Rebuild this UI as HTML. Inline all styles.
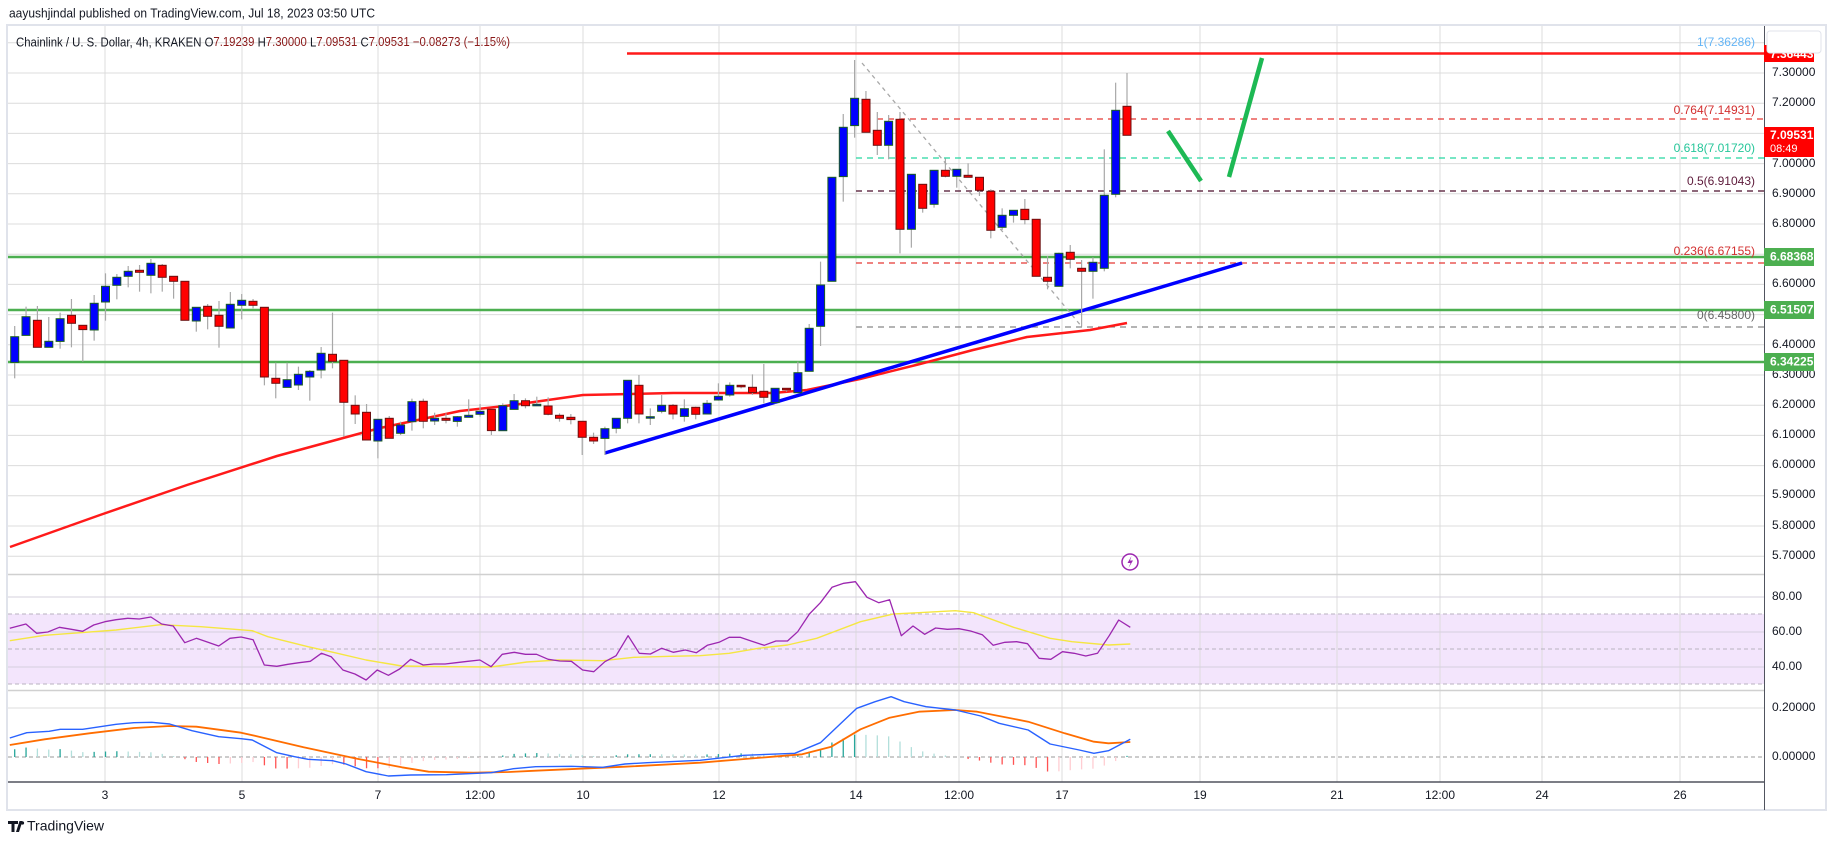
<!DOCTYPE html>
<html><head><meta charset="utf-8">
<style>
html,body{margin:0;padding:0;background:#fff;}
svg{display:block;font-family:"Liberation Sans",Arial,sans-serif;}
</style></head>
<body>
<svg id="s" width="1835" height="845" viewBox="0 0 1835 845" xmlns="http://www.w3.org/2000/svg"></svg>
<script>
const S=document.getElementById('s');let h='';
function L(x1,y1,x2,y2,c,w,d){h+=`<line x1="${x1}" y1="${y1}" x2="${x2}" y2="${y2}" stroke="${c}" stroke-width="${w||1}"${d?` stroke-dasharray="${d}"`:''}/>`;}
function T(x,y,t,c,sz,a,wt){h+=`<text x="${x}" y="${y}" fill="${c}" font-size="${sz||12}" ${a?`text-anchor="${a}"`:''} ${wt?`font-weight="${wt}"`:''} dominant-baseline="middle">${t}</text>`;}
function P(pts,c,w,dash){h+=`<polyline fill="none" stroke="${c}" stroke-width="${w}" stroke-linejoin="round" ${dash?`stroke-dasharray="${dash}"`:''} points="${pts.map(p=>p[0].toFixed(1)+','+p[1].toFixed(1)).join(' ')}"/>`;}
h+=`<rect x="7" y="25" width="1819" height="785" fill="#fff" stroke="#e0e3eb" stroke-width="2"/>`;
h+=`<rect x="8" y="614" width="1756" height="70" fill="#f3e5fc"/>`;
const vx=[105,242,378,480,583,719,856,959,1062,1200,1337,1440,1542,1680];
vx.forEach(x=>L(x,26,x,782,'#dcdcdc'));
for(let k=-1;k<17;k++){const y=73+k*30.2;if(y>28&&y<572)L(8,y,1764,y,'#dcdcdc');}
[597,632,667].forEach(y=>L(8,y,1764,y,'#d6d0de'));
[614,649,684].forEach(y=>L(8,y,1764,y,'#b8b2c0',1,'4,3'));
L(8,708,1764,708,'#dcdcdc');
L(8,574.5,1764,574.5,'#d0d0d0',1.5);L(8,690.5,1764,690.5,'#d0d0d0',1.5);
L(8,757,1764,757,'#9a9a9a',1,'4,3');
L(8,782,1764,782,'#50535e',1.5);
L(1764.5,26,1764.5,810,'#50535e',1);
L(627,53.5,1764,53.5,'#ff1a1a',2.5);
[257,310,362].forEach(y=>L(8,y,1764,y,'#4caf50',2.5));
L(877,119,1764,119,'#e53935',1.3,'6,5');
L(856,158,1764,158,'#26d6a0',1.3,'6,5');
L(856,191,1764,191,'#4a0e2a',1.3,'6,5');
L(856,263,1764,263,'#e53935',1.3,'6,5');
L(856,327,1764,327,'#888',1.3,'6,5');
L(862,63,1082,327,'#a8a8a8',1.3,'4,4');
T(1755,43,'1(7.36286)','#64b5f6',12,'end');
T(1755,111,'0.764(7.14931)','#d32f2f',12,'end');
T(1755,149,'0.618(7.01720)','#26c69a',12,'end');
T(1755,182,'0.5(6.91043)','#5d1a3a',12,'end');
T(1755,252,'0.236(6.67155)','#d32f2f',12,'end');
T(1755,316,'0(6.45800)','#666',12,'end');
P([[10,547],[100,515],[187,485],[277,456],[380,428],[460,411],[513,405],[583,395],[673,393],[773,393],[807,390],[860,379],[920,364],[973,350],[1027,337],[1090,330],[1127,323]],'#ff1a1a',2.5);
L(605,453,1242,263,'#0000ff',3.5);
const G=[
[240,[[367,290,258,415],[286,230,200,286],[241,322,198,322],[322,304,231,322],[304,236,218,326],[226,250,177,322],[256,269,256,365],[270,190,165,302],[186,139,100,242],[136,112,102,178],[109,94,78,142],[91,97,75,155],[106,70,57,160],[76,112,72,155],[109,124,109,176],[124,241,124,241],[243,202,202,275],[199,229,192,268],[226,259,183,323],[264,193,156,264],[196,181,162,238],[184,196,177,205],[202,411,202,436],[415,430,368,475],[442,419,368,442],[435,403,380,450],[411,394,390,482],[390,340,321,415],[343,364,218,385],[361,487,361,590],[496,522,466,552],[517,600,492,600],[603,538,538,655],[535,595,528,595],[580,555,545,585],[545,485,476,572],[484,544,476,565],[543,535,518,555],[535,541,520,550],[544,530,528,560]]],
[240,[[532,526,478,532],[523,514,492,530],[508,572,508,585],[572,497,490,572],[508,482,462,508],[482,497,475,505],[494,493,470,497],[498,523,472,526],[526,535,520,545],[532,539,522,553],[544,592,544,645],[592,603,578,612],[595,566,560,645],[565,535,535,580],[535,421,421,550],[436,522,405,550],[531,530,505,555],[514,496,465,520],[496,522,492,538],[529,506,478,545],[502,523,500,538],[522,490,480,522],[480,469,430,482],[465,436,427,470],[436,438,436,445],[442,458,403,465],[454,472,372,490],[488,445,445,490],[445,447,445,455],[458,398,365,458],[394,265,252,394],[259,135,65,318]]],
[60,[[664,352,352,664],[350,202,162,425],[197,115,0,233],[118,217,93,217],[211,256,156,285],[256,184,165,298],[178,508,156,580],[508,343,343,563],[373,445,373,458],[433,331,331,443],[331,349,295,352],[349,328,328,383],[346,352,310,352]]],
[60,[[352,391,352,408],[394,511,388,535],[502,466,445,510],[466,451,451,488],[448,479,417,493],[478,649,478,649],[652,664,588,688],[679,580,578,679],[577,598,555,625],[625,634,600,800],[634,607,592,716],[625,406,268,634],[403,151,68,412],[139,226,39,226]]]];
let i=0,cx=[];
G.forEach(([b,arr])=>arr.forEach(c=>{const x=14.7+i*11.35;cx.push(x);const [o,cl,hi,lo]=c.map(v=>b+v/3);
L(x,hi,x,lo,'#a8a8a8',1.2);const up=cl<=o;const t=Math.min(o,cl),bt=Math.max(o,cl);
h+=`<rect x="${(x-4).toFixed(1)}" y="${t.toFixed(1)}" width="8" height="${Math.max(bt-t,1.5).toFixed(1)}" fill="${up?'#0000ff':'#ff0000'}" stroke="${up?'#1b5e20':'#6b1010'}" stroke-width="1"/>`;i++;}));
L(1168,131,1201,181,'#1db954',4.5);L(1229,177,1262,58,'#1db954',4.5);
h+=`<circle cx="1130" cy="562" r="8" fill="#fff" stroke="#9c27b0" stroke-width="1.5"/><path d="M1131.5 556 L1127.5 563 L1130.5 563 L1128.5 568 L1133 560.5 L1130 560.5 Z" fill="#9c27b0"/>`;
const z4=a=>a.map(p=>[p[0]/2.24,490+p[1]/3]),z5=a=>a.map(p=>[700+p[0]/1.371,490+p[1]/3]);
P(z4([[22,452],[100,436],[180,428],[260,420],[360,404],[450,410],[565,422],[600,440],[690,470],[750,488],[820,510],[900,528],[1000,530],[1100,531],[1180,516],[1250,510],[1350,512],[1420,502],[1500,499],[1568,497]]).concat(z5([[40,490],[80,475],[120,465],[160,445],[220,395],[265,372],[300,368],[350,362],[375,368],[430,412],[480,445],[510,455],[560,465],[590,462]])),'#f5e642',1.4);
P(z4([[22,415],[58,402],[82,430],[107,426],[133,412],[160,418],[185,424],[210,405],[235,395],[260,389],[286,385],[312,387],[338,381],[362,402],[388,408],[414,458],[440,445],[466,457],[490,468],[515,445],[540,441],[567,449],[592,525],[620,529],[645,523],[670,518],[695,514],[720,490],[742,500],[768,540],[795,552],[820,570],[845,540],[870,556],[895,537],[920,508],[948,525],[972,522],[997,522],[1022,518],[1048,514],[1075,510],[1100,530],[1125,493],[1152,487],[1177,493],[1202,493],[1228,508],[1254,513],[1280,514],[1305,540],[1330,545],[1355,515],[1380,497],[1407,437],[1432,490],[1457,492],[1482,475],[1508,487],[1535,480],[1560,488]]).concat(z5([[10,466],[26,457],[40,442],[55,442],[70,453],[88,466],[104,453],[120,453],[134,425],[150,372],[165,338],[181,292],[197,280],[213,275],[229,322],[245,338],[260,329],[276,437],[292,408],[308,433],[323,414],[339,418],[355,416],[371,423],[387,434],[402,466],[418,457],[434,455],[449,461],[465,505],[481,508],[497,485],[513,490],[529,498],[545,490],[561,437],[574,390],[590,412]])),'#9c27b0',1.3);
const mb=z4([[22,744],[60,728],[110,724],[135,718],[185,718],[260,703],[300,698],[340,697],[380,702],[430,722],[490,740],[540,746],[565,750],[620,788],[660,800],[690,808],[745,812],[775,822],[820,845],[870,858],[920,855],[1000,854],[1100,848],[1150,836],[1200,830],[1280,829],[1350,832],[1400,822],[1450,818],[1500,815],[1568,811]]).concat(z5([[60,796],[130,790],[165,758],[215,655],[240,635],[262,620],[280,635],[310,650],[350,660],[385,678],[410,700],[450,720],[480,762],[520,780],[540,790],[560,782],[590,748]]));
const mo=z4([[22,765],[100,748],[200,730],[300,714],[380,708],[440,710],[540,728],[580,740],[680,772],[800,806],[900,832],[960,845],[1060,848],[1140,846],[1200,842],[1300,836],[1400,830],[1568,818]]).concat(z5([[100,800],[140,793],[180,770],[220,718],[260,683],[300,665],[350,660],[380,665],[450,695],[500,730],[540,755],[560,760],[590,756]]));
function interp(a,x){for(let k=0;k<a.length-1;k++){if(x>=a[k][0]&&x<=a[k+1][0]){const t=(x-a[k][0])/(a[k+1][0]-a[k][0]);return a[k][1]+t*(a[k+1][1]-a[k][1]);}}return x<a[0][0]?a[0][1]:a[a.length-1][1];}
let prev=0;cx.forEach(x=>{const d=interp(mo,x)-interp(mb,x);const col=d>=0?(d>=prev?'#26a69a':'#b2dfdb'):(d<=prev?'#ff5252':'#ffcdd2');if(Math.abs(d)>0.5)L(x,757,x,757-d,col,1.3);prev=d;});
P(mo,'#ff6d00',1.8);P(mb,'#2962ff',1.4);
const pl={'7.30000':73,'7.20000':103,'7.00000':164,'6.90000':194,'6.80000':224,'6.60000':284,'6.40000':345,'6.30000':375,'6.20000':405,'6.10000':435,'6.00000':465,'5.90000':495,'5.80000':526,'5.70000':556};
for(const k in pl)T(1772,pl[k],k,'#131722',12);
T(1772,597,'80.00','#131722',12);T(1772,632,'60.00','#131722',12);T(1772,667,'40.00','#131722',12);
T(1772,708,'0.20000','#131722',12);T(1772,757,'0.00000','#131722',12);
h+=`<rect x="1764" y="45" width="50" height="17" fill="#ff0000"/>`;T(1770,55,'7.36443','#fff',12,null,'bold');
h+=`<rect x="1767" y="31" width="54" height="22" rx="3" fill="#fff" stroke="#e0e3eb"/>`;
h+=`<rect x="1764" y="127" width="50" height="30" fill="#ff0000"/>`;T(1770,136,'7.09531','#fff',12,null,'bold');T(1770,149,'08:49','#fff',11);
[['6.68368',257],['6.51507',310],['6.34225',362]].forEach(([t,y])=>{h+=`<rect x="1764" y="${y-9}" width="50" height="18" fill="#4caf50"/>`;T(1770,y+0.5,t,'#fff',12,null,'bold');});
[['3',105],['5',242],['7',378],['12:00',480],['10',583],['12',719],['14',856],['12:00',959],['17',1062],['19',1200],['21',1337],['12:00',1440],['24',1542],['26',1680]].forEach(([t,x])=>T(x,796,t,'#131722',12,'middle'));
h+=`<text x="9" y="14" font-size="13" dominant-baseline="middle" fill="#131722" textLength="366" lengthAdjust="spacingAndGlyphs">aayushjindal published on TradingView.com, Jul 18, 2023 03:50 UTC</text>`;
h+=`<text x="16" y="43" font-size="12.5" dominant-baseline="middle" fill="#131722" textLength="494" lengthAdjust="spacingAndGlyphs">Chainlink / U. S. Dollar, 4h, KRAKEN  O<tspan fill="#8b1a1a">7.19239</tspan>  H<tspan fill="#8b1a1a">7.30000</tspan>  L<tspan fill="#8b1a1a">7.09531</tspan>  C<tspan fill="#8b1a1a">7.09531</tspan>  <tspan fill="#8b1a1a">−0.08273 (−1.15%)</tspan></text>`;
h+=`<path d="M8 821 h10 v3 h-3.5 v8 h-3 v-8 h-3.5 z M19.5 821 h3 l-3.5 11 h-3 z" fill="#131722"/><circle cx="22.5" cy="823" r="1.6" fill="#131722"/>`;
T(27,827,'TradingView','#131722',14);
S.innerHTML=h;
</script>
</body></html>
